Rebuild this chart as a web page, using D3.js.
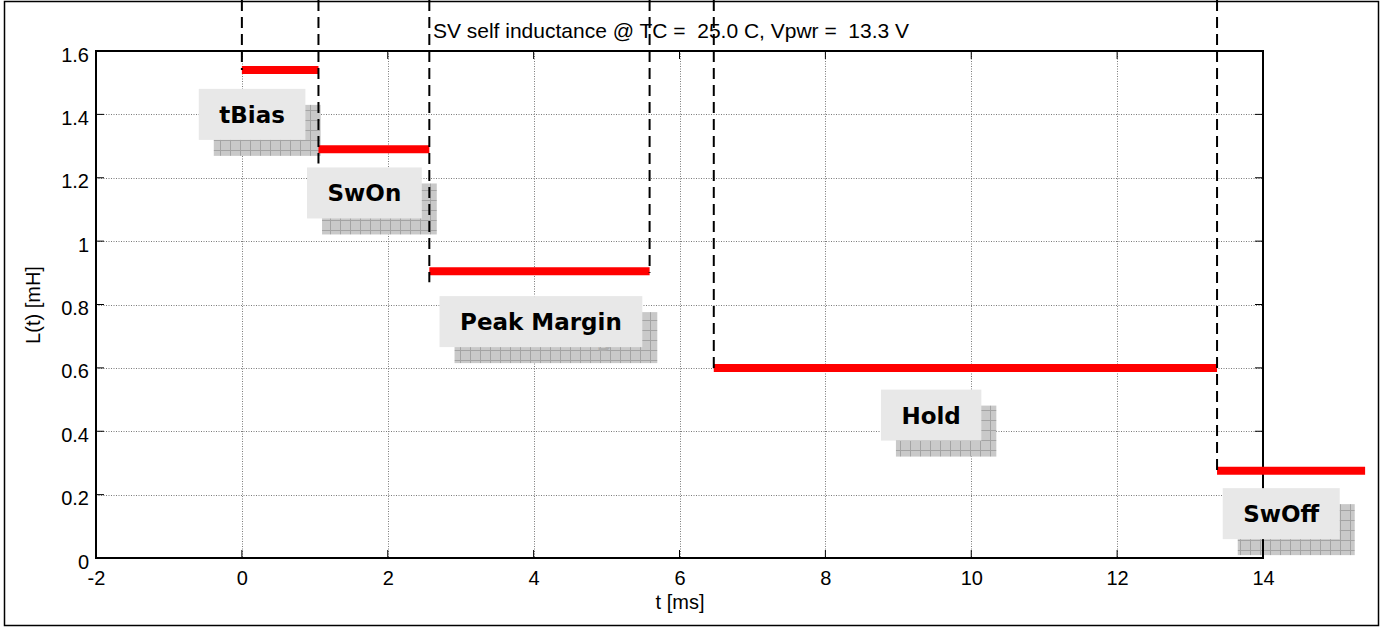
<!DOCTYPE html>
<html><head><meta charset="utf-8">
<script src="https://cdn.jsdelivr.net/npm/d3@7/dist/d3.min.js"></script>
<style>
html,body{margin:0;padding:0;background:#fff;}
svg{display:block;}
text{font-family:"Liberation Sans",Arial,sans-serif;}
</style></head>
<body><svg id="c" width="1383" height="628"></svg>
<script>
// ---- data ----
const phases   = ["tBias", "SwOn", "Peak Margin", "Hold", "SwOff"];
const tStart   = [0, 1.05, 2.57, 6.47, 13.37];
const tEnd     = [1.05, 2.57, 5.59, 13.37, 15.4];
const Lval     = [1.54, 1.29, 0.905, 0.60, 0.275];
const dashT    = [0, 1.05, 2.57, 5.59, 6.47, 13.37];
const dashLow  = [1.54, 1.245, 0.87, 0.9, 0.6, 0.275];
const labelT   = [0.14, 1.68, 4.10, 9.45, 14.25];
const labelL   = [1.40, 1.152, 0.746, 0.451, 0.14];
const xTicks   = [-2, 0, 2, 4, 6, 8, 10, 12, 14];
const yTicks   = [0, 0.2, 0.4, 0.6, 0.8, 1, 1.2, 1.4, 1.6];
const titleText = "SV self inductance @ TC =  25.0 C, Vpwr =  13.3 V";
const xLabel = "t [ms]", yLabel = "L(t) [mH]";

const svg = d3.select("#c");
const x = d3.scaleLinear().domain([-2, 14]).range([96, 1263]);
const y = d3.scaleLinear().domain([0, 1.6]).range([558, 51]);
const [x0, x1] = x.range(), [y0, y1] = y.range();
const FS = "20px";

// pattern for shadows
const defs = svg.append("defs");
const pat = defs.append("pattern").attr("id", "hatch").attr("patternUnits", "userSpaceOnUse")
  .attr("width", 10).attr("height", 10);
pat.append("rect").attr("width", 10).attr("height", 10).attr("fill", "#c9c9c9");
pat.append("path").attr("d", "M0,0.5H10M0.5,0V10").attr("stroke", "#a4a4a4").attr("stroke-width", 1);

// background + outer frame
svg.append("rect").attr("x", 0).attr("y", 0).attr("width", 1383).attr("height", 628).attr("fill", "#fff");
svg.append("rect").attr("x", 4.5).attr("y", 1.5).attr("width", 1374).attr("height", 624)
  .attr("fill", "none").attr("stroke", "#000").attr("stroke-width", 1.5);

// grid
const grid = svg.append("g").attr("stroke", "#7a7a7a").attr("stroke-width", 1).attr("stroke-dasharray", "1,1.5");
grid.selectAll(".gx").data(xTicks.slice(1, -1)).join("line")
  .attr("x1", d => Math.round(x(d)) + 0.5).attr("x2", d => Math.round(x(d)) + 0.5).attr("y1", y1).attr("y2", y0);
grid.selectAll(".gy").data(yTicks.slice(1, -1)).join("line")
  .attr("y1", d => Math.round(y(d)) + 0.5).attr("y2", d => Math.round(y(d)) + 0.5).attr("x1", x0).attr("x2", x1);

// label measurement helper
const fontLbl = "bold 23px 'DejaVu Sans', Verdana, sans-serif";
const meas = svg.append("text").style("font", fontLbl).attr("x", -999).attr("y", -999);
const boxes = phases.map((p, i) => {
  meas.text(p);
  const w = meas.node().getComputedTextLength() + 41;
  const h = 51;
  const cx = x(labelT[i]), cy = y(labelL[i]);
  return {p, w, h, x: cx - w / 2, y: cy - h / 2, cx, cy};
});
meas.remove();

// shadows
const sh = svg.append("g");
sh.selectAll("rect").data(boxes).join("rect")
  .attr("x", d => d.x + 15).attr("y", d => d.y + 16).attr("width", d => d.w).attr("height", d => d.h)
  .attr("fill", "url(#hatch)");
sh.selectAll("text").data(boxes).join("text")
  .attr("x", d => d.cx + 15).attr("y", d => d.cy + 16 + 8.5).attr("text-anchor", "middle")
  .style("font", fontLbl).attr("fill", "#adadad").text(d => d.p);

// axes box + ticks
const ax = svg.append("g").attr("stroke", "#000");
ax.append("rect").attr("x", x0).attr("y", y1).attr("width", x1 - x0).attr("height", y0 - y1)
  .attr("fill", "none").attr("stroke-width", 2);
ax.selectAll(".tb").data(xTicks).join("line").attr("stroke-width", 1)
  .attr("x1", d => x(d)).attr("x2", d => x(d)).attr("y1", y0).attr("y2", y0 - 8);
ax.selectAll(".tt").data(xTicks).join("line").attr("stroke-width", 1)
  .attr("x1", d => x(d)).attr("x2", d => x(d)).attr("y1", y1).attr("y2", y1 + 8);
ax.selectAll(".tl").data(yTicks).join("line").attr("stroke-width", 1)
  .attr("y1", d => y(d)).attr("y2", d => y(d)).attr("x1", x0).attr("x2", x0 + 8);
ax.selectAll(".tr").data(yTicks).join("line").attr("stroke-width", 1)
  .attr("y1", d => y(d)).attr("y2", d => y(d)).attr("x1", x1).attr("x2", x1 - 8);

// axis labels via d3 axes
const fmt = d => String(d);
const gx = svg.append("g").attr("transform", `translate(0,${y0})`)
  .call(d3.axisBottom(x).tickValues(xTicks).tickFormat(fmt).tickSize(0).tickPadding(13));
const gy = svg.append("g").attr("transform", `translate(${x0},0)`)
  .call(d3.axisLeft(y).tickValues(yTicks).tickFormat(fmt).tickSize(0).tickPadding(7));
[gx, gy].forEach(g => {
  g.select(".domain").remove();
  g.selectAll("text").attr("fill", "#000").style("font-size", FS).style("font-family", "'Liberation Sans', Arial, sans-serif");
});
gy.selectAll("text").attr("dy", "0.5em");

// red segments
svg.append("g").selectAll("line").data(phases).join("line")
  .attr("x1", (d, i) => x(tStart[i])).attr("x2", (d, i) => x(tEnd[i]))
  .attr("y1", (d, i) => y(Lval[i])).attr("y2", (d, i) => y(Lval[i]))
  .attr("stroke", "#ff0000").attr("stroke-width", 8);

// title
svg.append("text").attr("x", 671).attr("y", 38).attr("text-anchor", "middle")
  .style("font-size", "21px").style("white-space", "pre").attr("xml:space", "preserve").text(titleText);

// dashed markers
svg.append("g").selectAll("line").data(dashT).join("line")
  .attr("x1", d => x(d)).attr("x2", d => x(d))
  .attr("y1", 0).attr("y2", (d, i) => y(dashLow[i]))
  .attr("stroke", "#000").attr("stroke-width", 2).attr("stroke-dasharray", "11,6");

// label boxes
const lb = svg.append("g");
lb.selectAll("rect").data(boxes).join("rect")
  .attr("x", d => d.x).attr("y", d => d.y).attr("width", d => d.w).attr("height", d => d.h)
  .attr("fill", "#e8e8e8");
lb.selectAll("text").data(boxes).join("text")
  .attr("x", d => d.cx).attr("y", d => d.cy + 8.5).attr("text-anchor", "middle")
  .style("font", fontLbl).attr("fill", "#000").text(d => d.p);

// axis titles
svg.append("text").attr("x", 680).attr("y", 609).attr("text-anchor", "middle").style("font-size", FS).text(xLabel);
svg.append("text").attr("transform", "translate(40,305) rotate(-90)").attr("text-anchor", "middle")
  .style("font-size", FS).text(yLabel);
</script></body></html>
